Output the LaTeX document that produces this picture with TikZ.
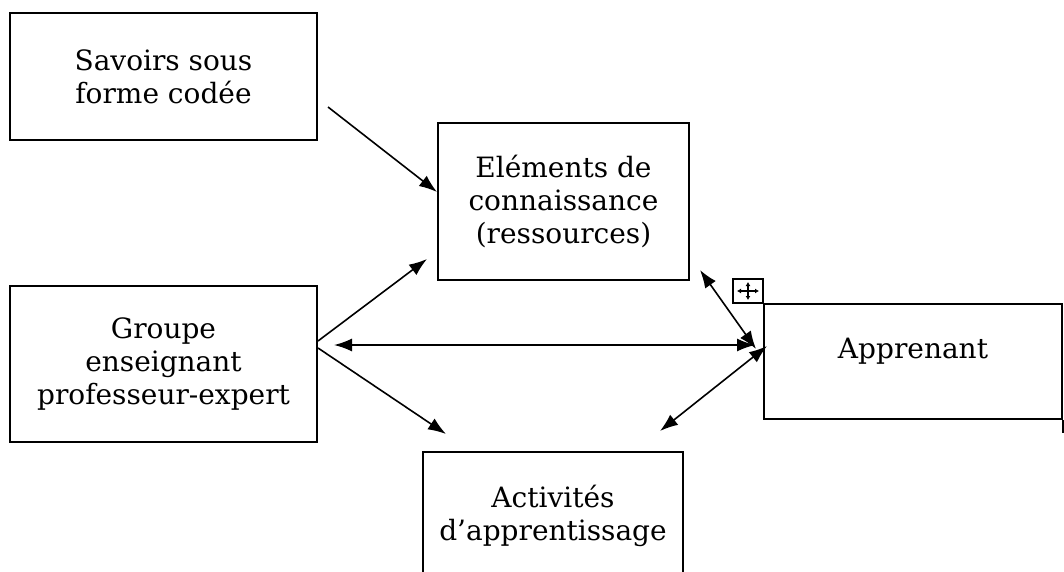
\documentclass[tikz,border=0pt]{standalone}
\usepackage{fontspec}
\setmainfont{DejaVu Serif}
\usetikzlibrary{arrows.meta}

\begin{document}
\begin{tikzpicture}[x=1pt,y=-1pt,line width=1.6pt,
		>={Latex[length=18pt,width=13pt]},
		boite/.style={draw,line width=2pt,align=center,inner sep=0pt,
			font=\fontsize{28}{33}\selectfont}]
				\useasboundingbox (0,0) rectangle (1064,572);
				\clip (0,0) rectangle (1064,572);
				\node[boite,minimum width=307pt,minimum height=127pt] (savoirs) at (163.5,76.5) {Savoirs sous\\forme codée};
				\node[boite,minimum width=251pt,minimum height=157pt] (elements) at (563.5,201.5) {Eléments de\\connaissance\\(ressources)};
				\node[boite,minimum width=307pt,minimum height=156pt] (groupe) at (163.5,364) {Groupe\\enseignant\\professeur-expert};
				\node[boite,minimum width=298pt,minimum height=115pt,text depth=26pt] (apprenant) at (913,361.5) {Apprenant};
				\node[boite,minimum width=260pt,minimum height=128pt] (activites) at (553,516) {Activités\\d’apprentissage};
				\node[draw,line width=1.4pt,minimum width=30pt,minimum height=24pt,inner sep=0pt] (poignee) at (748,291) {};
				\draw[{Latex[length=4pt,width=5pt]}-{Latex[length=4pt,width=5pt]},line width=1.2pt] ([xshift=-11pt]poignee.center) -- ([xshift=11pt]poignee.center);
				\draw[{Latex[length=4pt,width=5pt]}-{Latex[length=4pt,width=5pt]},line width=1.2pt] ([yshift=-9pt]poignee.center) -- ([yshift=9pt]poignee.center);
				\draw[line width=2pt] (apprenant.south east) -- ++(0,13);
				\draw[->] ([xshift=10pt,yshift=-30.5pt]savoirs.east) -- ([yshift=9.5pt]elements.west);
				\draw[->] ([yshift=23pt]groupe.east) -- ([xshift=-10pt,yshift=22pt]elements.south west);
				\draw[->] ([yshift=16pt]groupe.east) -- ([xshift=24pt,yshift=17pt]activites.north west);
				\draw[<->] ([xshift=16pt,yshift=19pt]groupe.east) -- ([xshift=-8pt,yshift=16.5pt]apprenant.west);
				\draw[<->] ([xshift=10pt,yshift=11pt]elements.south east) -- ([xshift=-7pt,yshift=12.5pt]apprenant.west);
				\draw[<->] ([xshift=-24pt,yshift=20pt]activites.north east) -- ([xshift=4pt,yshift=15.5pt]apprenant.west);
\end{tikzpicture}
\end{document}
